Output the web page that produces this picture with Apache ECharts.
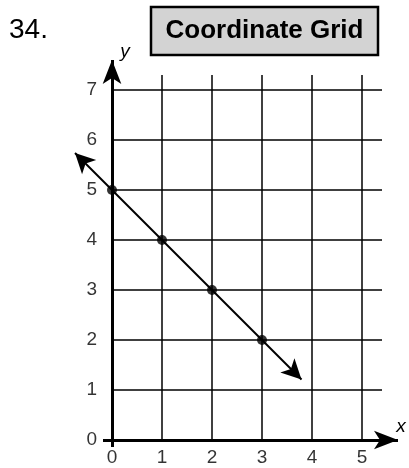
<!DOCTYPE html>
<html>
<head>
<meta charset="utf-8">
<script src="https://cdn.jsdelivr.net/npm/echarts@6/dist/echarts.min.js"></script>
<style>html,body{margin:0;padding:0;background:#fff}#c{width:409px;height:468px}</style>
</head>
<body>
<div id="c"></div>
<script>
// ---- data ----
var xTicks = [0, 1, 2, 3, 4, 5];
var yTicks = [0, 1, 2, 3, 4, 5, 6, 7];
var xGridMax = 5.4;
var yGridMax = 7.3;
var xAxisExtent = [-0.18, 5.72];
var yAxisExtent = [-0.14, 7.6];
var pointsX = [0, 1, 2, 3];
var pointsY = [5, 4, 3, 2];
var lineStart = [-0.74, 5.74];
var lineEnd = [3.79, 1.21];

var FONT = '"Liberation Sans", Arial, sans-serif';

var gridLines = [];
xTicks.forEach(function (x) {
  if (x > 0) gridLines.push([{ coord: [x, 0] }, { coord: [x, yGridMax] }]);
});
yTicks.forEach(function (y) {
  if (y > 0) gridLines.push([{ coord: [0, y] }, { coord: [xGridMax, y] }]);
});

var chart = echarts.init(document.getElementById('c'), null, { renderer: 'canvas' });
chart.setOption({
  animation: false,
  backgroundColor: '#fff',
  // axis range -1..5.8 (x) and -0.5..7.8 (y), 50 px per unit, origin at (112, 440)
  grid: { left: 62, top: 50, width: 340, height: 415, outerBoundsMode: 'none', containLabel: false },
  xAxis: {
    type: 'value', min: -1, max: 5.8,
    axisLine: { show: false }, axisTick: { show: false }, splitLine: { show: false },
    axisLabel: { show: false }
  },
  yAxis: {
    type: 'value', min: -0.5, max: 7.8,
    axisLine: { show: false }, axisTick: { show: false }, splitLine: { show: false },
    axisLabel: { show: false }
  },
  series: [
    {
      type: 'line', data: [], silent: true, clip: false,
      markLine: {
        silent: true, symbol: ['none', 'none'], animation: false,
        label: { show: false },
        lineStyle: { color: '#000', width: 1.5, type: 'solid' },
        emphasis: { disabled: true },
        data: gridLines
      }
    },
    {
      type: 'line', data: [], silent: true, clip: false,
      markLine: {
        silent: true, symbol: ['none', 'arrow'], symbolSize: [14, 24], animation: false,
        label: { show: false },
        lineStyle: { color: '#000', width: 3, type: 'solid' },
        emphasis: { disabled: true },
        data: [
          [{ coord: [xAxisExtent[0], 0] }, { coord: [xAxisExtent[1], 0] }],
          [{ coord: [0, yAxisExtent[0]] }, { coord: [0, yAxisExtent[1]] }]
        ]
      }
    },
    {
      type: 'line', data: [], silent: true, clip: false,
      markLine: {
        silent: true, symbol: ['arrow', 'arrow'], symbolSize: [15, 20], animation: false,
        label: { show: false },
        lineStyle: { color: '#000', width: 2, type: 'solid' },
        emphasis: { disabled: true },
        data: [[{ coord: lineStart }, { coord: lineEnd }]]
      }
    },
    {
      type: 'scatter', silent: true, clip: false,
      symbol: 'circle', symbolSize: 10,
      itemStyle: { color: '#000' },
      data: pointsX.map(function (x, i) { return [x, pointsY[i]]; })
    },
    {
      // x tick labels
      type: 'scatter', silent: true, clip: false, symbolSize: 0,
      label: { show: true, position: 'bottom', distance: 8, color: '#000', fontSize: 19, fontFamily: FONT,
        formatter: function (p) { return String(p.value[0]); } },
      data: xTicks.map(function (x) { return [x, 0]; })
    },
    {
      // y tick labels
      type: 'scatter', silent: true, clip: false, symbolSize: 0,
      label: { show: true, position: 'left', distance: 15, color: '#000', fontSize: 19, fontFamily: FONT,
        formatter: function (p) { return String(p.value[1]); } },
      data: yTicks.map(function (y) { return [0, y]; })
    }
  ],
  graphic: [
    { type: 'text', left: 9, top: 16, style: { text: '34.', font: '28px ' + FONT, fill: '#000' } },
    { type: 'rect', shape: { x: 151, y: 7, width: 227, height: 48 },
      style: { fill: '#d3d3d3', stroke: '#000', lineWidth: 2.5 } },
    { type: 'text', x: 264.5, y: 31, style: { text: 'Coordinate Grid', font: 'bold 26px ' + FONT,
      fill: '#000', align: 'center', verticalAlign: 'middle' } },
    { type: 'text', x: 125, y: 52, style: { text: 'y', font: 'italic 19px ' + FONT,
      fill: '#000', align: 'center', verticalAlign: 'middle' } },
    { type: 'text', x: 401, y: 427, style: { text: 'x', font: 'italic 19px ' + FONT,
      fill: '#000', align: 'center', verticalAlign: 'middle' } }
  ]
});
</script>
</body>
</html>
